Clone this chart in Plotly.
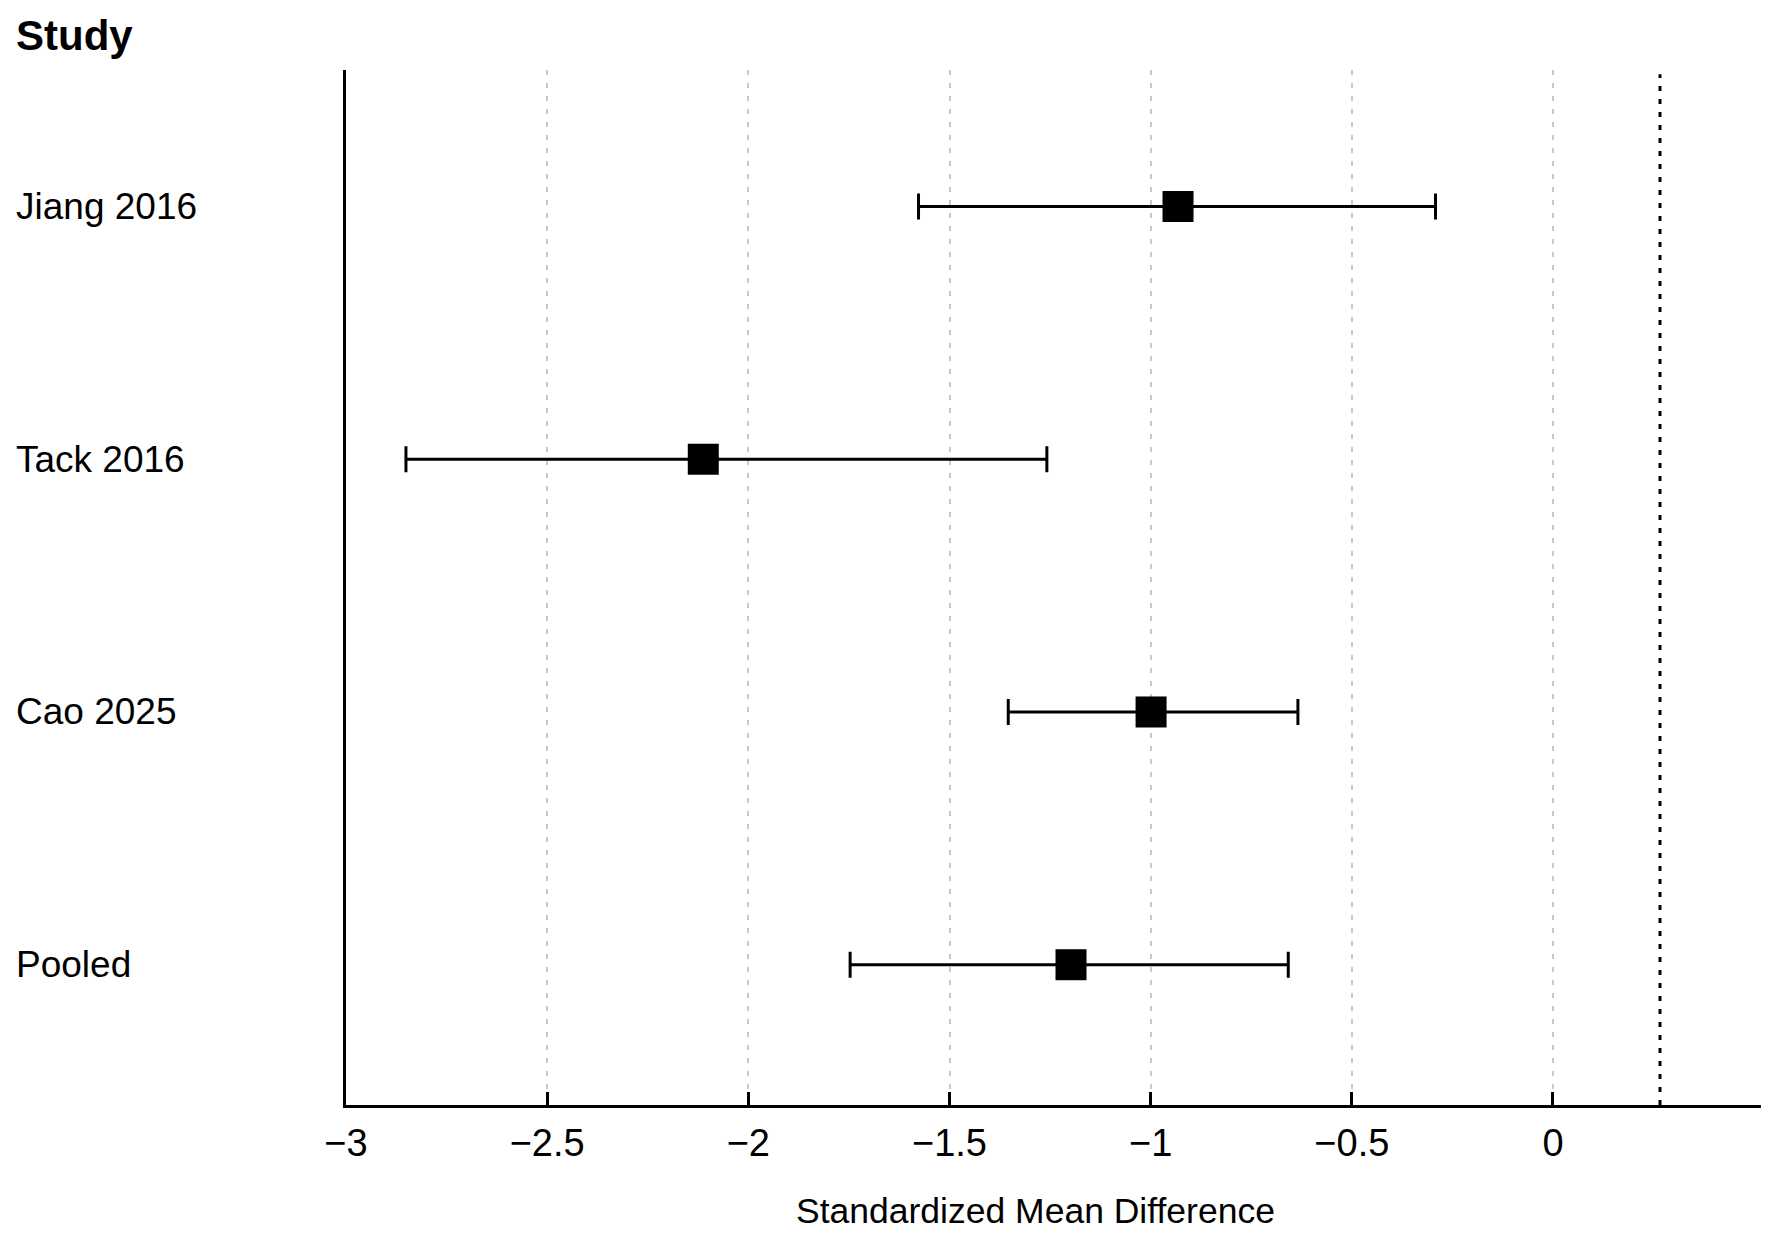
import plotly.graph_objects as go

# Forest plot data (top to bottom)
studies = ["Jiang 2016", "Tack 2016", "Cao 2025", "Pooled"]
smd = [-0.932, -2.112, -0.999, -1.198]
ci_low = [-1.577, -2.851, -1.354, -1.747]
ci_high = [-0.292, -1.258, -0.634, -0.658]
row_pos = [4, 3, 2, 1]

tick_vals = [-3, -2.5, -2, -1.5, -1, -0.5, 0]
tick_text = [("−" + f"{abs(v):g}") if v < 0 else f"{v:g}" for v in tick_vals]
ref_line_x = 0.266

FONT = "Liberation Sans, Arial, Helvetica, sans-serif"

err_plus = [h - m for h, m in zip(ci_high, smd)]
err_minus = [m - l for m, l in zip(smd, ci_low)]

fig = go.Figure(go.Scatter(
    x=smd,
    y=row_pos,
    mode="markers",
    marker=dict(symbol="square", size=31, color="black", line=dict(width=0)),
    error_x=dict(type="data", array=err_plus, arrayminus=err_minus,
                 color="black", thickness=3, width=13),
    showlegend=False,
    hoverinfo="skip",
))

# dotted reference line
fig.add_shape(type="line", xref="x", yref="paper", x0=ref_line_x, x1=ref_line_x,
              y0=0, y1=0.996, line=dict(color="black", width=3, dash="5px,8px"))

# study labels, left aligned at the page edge
for name, pos in zip(studies, row_pos):
    fig.add_annotation(text=name, xref="paper", yref="y", x=-0.2346, y=pos,
                       xanchor="left", yanchor="middle", showarrow=False,
                       font=dict(family=FONT, size=37, color="black"))

fig.add_annotation(text="<b>Study</b>", xref="paper", yref="paper", x=-0.2346, y=1.0338,
                   xanchor="left", yanchor="middle", showarrow=False,
                   font=dict(family=FONT, size=42, color="black"))

fig.add_annotation(text="Standardized Mean Difference", xref="paper", yref="paper",
                   x=0.4876, y=-0.1024, xanchor="center", yanchor="middle", showarrow=False,
                   font=dict(family=FONT, size=35.5, color="black"))

fig.update_xaxes(
    range=[-3, 0.517], tickvals=tick_vals, ticktext=tick_text,
    ticks="inside", ticklen=13, tickwidth=2.5, tickcolor="black",
    showline=True, linecolor="black", linewidth=3,
    showgrid=True, gridcolor="#c8c8c8", gridwidth=1.5, griddash="5px,8px",
    zeroline=False, ticklabelstandoff=2,
    tickfont=dict(family=FONT, size=38, color="black"),
)
fig.update_yaxes(
    range=[0.445, 4.54], showticklabels=False, ticks="",
    showline=True, linecolor="black", linewidth=3,
    showgrid=False, zeroline=False,
)

# page body adds an 8px offset, so the figure is 8px smaller and shifted margins
fig.update_layout(
    width=1764, height=1228,
    margin=dict(l=338, r=11, t=62, b=131),
    plot_bgcolor="white", paper_bgcolor="white",
    font=dict(family=FONT, color="black"),
)

fig.write_html("out.html")
